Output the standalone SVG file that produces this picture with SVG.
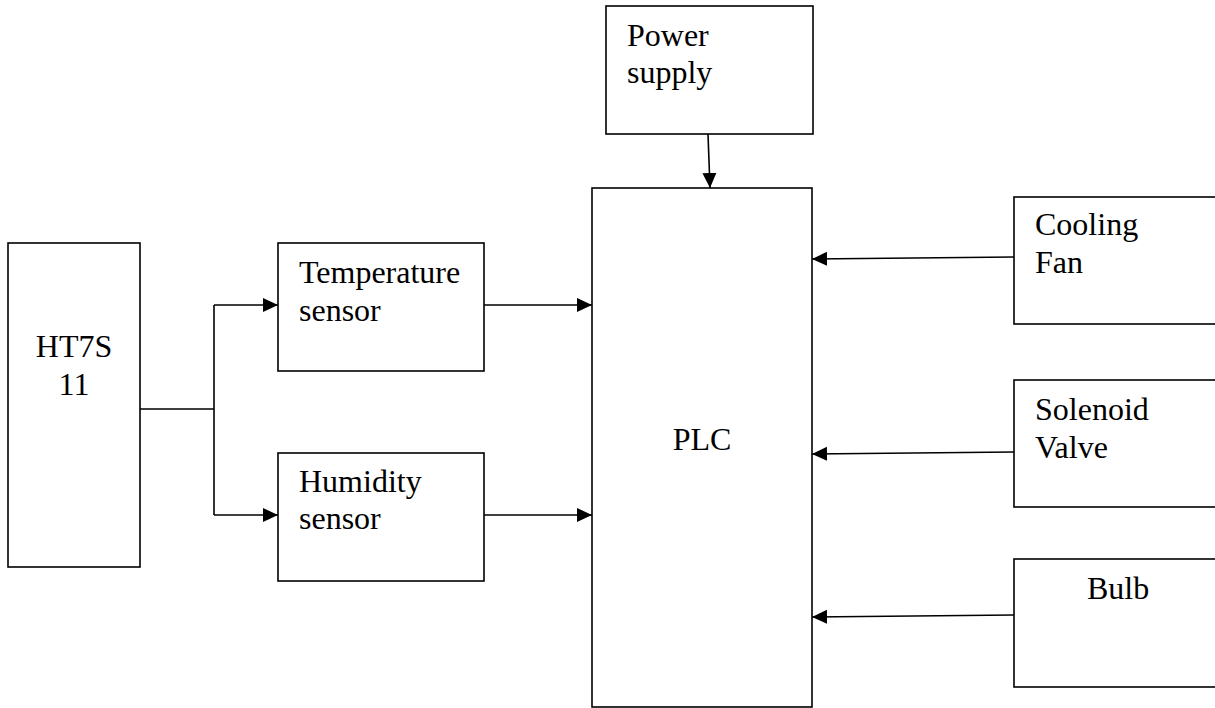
<svg xmlns="http://www.w3.org/2000/svg" width="1215" height="708" viewBox="0 0 1215 708">
<style>
.box{fill:#fff;stroke:#000;stroke-width:1.6}
.t{font-family:"Liberation Serif","Times New Roman",serif;font-size:32px;fill:#000}
.c{fill:none;stroke:#000;stroke-width:1.6}
</style>
<defs>
<marker id="ah" markerUnits="userSpaceOnUse" markerWidth="16" markerHeight="16" viewBox="0 0 16 16" refX="15" refY="8" orient="auto">
<path d="M0,1 L15,8 L0,15 Z" fill="#000"/>
</marker>
</defs>
<rect width="1215" height="708" fill="#fff"/>
<g id="ht7s11"><rect class="box" x="8" y="243" width="132" height="324"/>
<text class="t" x="74" y="357" text-anchor="middle">HT7S</text>
<text class="t" x="74" y="395" text-anchor="middle">11</text></g>
<g id="temp"><rect class="box" x="278" y="243" width="206" height="128"/>
<text class="t" x="299" y="283">Temperature</text>
<text class="t" x="299" y="321">sensor</text></g>
<g id="hum"><rect class="box" x="278" y="453" width="206" height="128"/>
<text class="t" x="299" y="492">Humidity</text>
<text class="t" x="299" y="529">sensor</text></g>
<g id="power"><rect class="box" x="606" y="6" width="207" height="128"/>
<text class="t" x="627" y="46">Power</text>
<text class="t" x="627" y="83">supply</text></g>
<g id="plc"><rect class="box" x="592" y="188" width="220" height="519"/>
<text class="t" x="702" y="450" text-anchor="middle">PLC</text></g>
<g id="fan"><rect class="box" x="1014" y="197" width="210" height="127"/>
<text class="t" x="1035" y="235">Cooling</text>
<text class="t" x="1035" y="273">Fan</text></g>
<g id="valve"><rect class="box" x="1014" y="380" width="210" height="127"/>
<text class="t" x="1035" y="420">Solenoid</text>
<text class="t" x="1035" y="458">Valve</text></g>
<g id="bulb"><rect class="box" x="1014" y="559" width="210" height="128"/>
<text class="t" x="1087" y="599">Bulb</text></g>
<g id="connectors">
<polyline class="c" points="140,409 214,409"/>
<polyline class="c" points="214,305 214,515"/>
<line class="c" x1="214" y1="305" x2="278" y2="305" marker-end="url(#ah)"/>
<line class="c" x1="214" y1="515" x2="278" y2="515" marker-end="url(#ah)"/>
<line class="c" x1="484" y1="305" x2="592" y2="305" marker-end="url(#ah)"/>
<line class="c" x1="484" y1="515" x2="592" y2="515" marker-end="url(#ah)"/>
<line class="c" x1="708" y1="134" x2="710" y2="188" marker-end="url(#ah)"/>
<line class="c" x1="1014" y1="257" x2="812" y2="259" marker-end="url(#ah)"/>
<line class="c" x1="1014" y1="452" x2="812" y2="454" marker-end="url(#ah)"/>
<line class="c" x1="1014" y1="615" x2="812" y2="617" marker-end="url(#ah)"/>
</g>
</svg>
